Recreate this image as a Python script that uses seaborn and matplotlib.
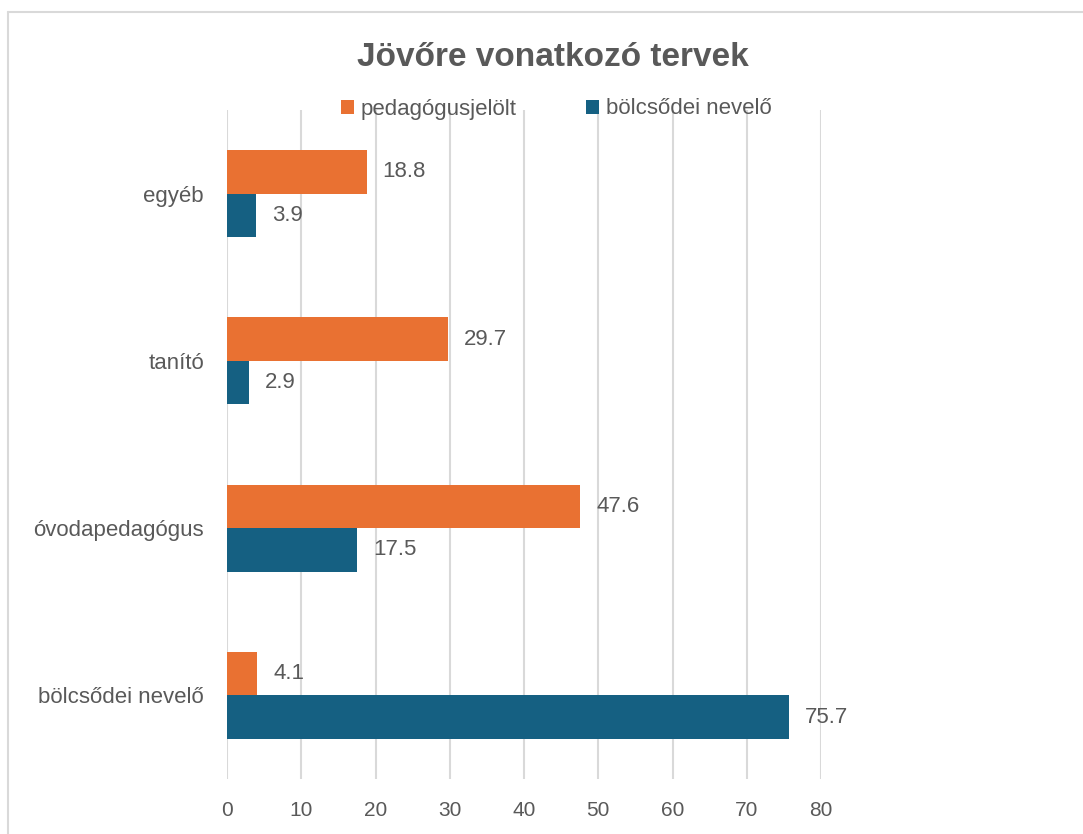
import pandas as pd
import numpy as np
import matplotlib
matplotlib.use("Agg")
import matplotlib.pyplot as plt
import seaborn as sns
from matplotlib.patches import Patch
from matplotlib.lines import Line2D

# data
categories = ["egyéb", "tanító", "óvodapedagógus", "bölcsődei nevelő"]
series = ["pedagógusjelölt", "bölcsődei nevelő"]
pedagogusjelolt = [18.8, 29.7, 47.6, 4.1]
bolcsodei_nevelo = [3.9, 2.9, 17.5, 75.7]
x_ticks = [0, 10, 20, 30, 40, 50, 60, 70, 80]

colors = {"pedagógusjelölt": "#E97132", "bölcsődei nevelő": "#156082"}
text_gray = "#595959"
grid_gray = "#D9D9D9"

df = pd.DataFrame({
    "kategoria": categories * 2,
    "sorozat": [series[0]] * 4 + [series[1]] * 4,
    "ertek": pedagogusjelolt + bolcsodei_nevelo,
})

sns.set_style("white")
plt.rcParams["font.family"] = ["Liberation Sans", "DejaVu Sans"]

fig = plt.figure(figsize=(10.83, 8.34), dpi=100)
ax = fig.add_axes([227 / 1083, 1 - 779 / 834, (821 - 227) / 1083, (779 - 110) / 834])

sns.barplot(data=df, y="kategoria", x="ertek", hue="sorozat",
            order=categories, hue_order=series, palette=colors,
            orient="h", width=0.52, dodge=True, saturation=1,
            edgecolor="none", linewidth=0, legend=False, ax=ax)

ax.set_xlim(0, 80)
ax.set_ylim(3.5, -0.5)
ax.set_xticks(x_ticks)
ax.set_xticklabels([str(t) for t in x_ticks])
ax.grid(axis="x", color=grid_gray, linewidth=1.5)
ax.grid(axis="y", visible=False)
ax.set_axisbelow(True)
for s in ax.spines.values():
    s.set_visible(False)
ax.set_xlabel("")
ax.set_ylabel("")
ax.tick_params(axis="x", length=0, labelsize=15, colors=text_gray, pad=16)
ax.tick_params(axis="y", length=0, labelsize=16, colors=text_gray, pad=16.5)

# value labels
for cont in ax.containers:
    for bar in cont:
        w = bar.get_width()
        ax.annotate(f"{w:.1f}", (w, bar.get_y() + bar.get_height() / 2),
                    xytext=(16, 0), textcoords="offset pixels",
                    ha="left", va="center", fontsize=16, color=text_gray)

fig.text(553 / 1083, 1 - 66 / 834, "Jövőre vonatkozó tervek", ha="center", va="baseline",
         fontsize=24, fontweight="bold", color=text_gray)

handles = [Patch(facecolor=colors[s], edgecolor="none", label=s) for s in series]
leg = fig.legend(handles=handles, loc="center", bbox_to_anchor=(556 / 1083, 1 - 109 / 834),
                 ncol=2, frameon=False, fontsize=16, handlelength=0.6, handleheight=0.6,
                 handletextpad=0.3, columnspacing=3.1, labelcolor=text_gray)

# chart border (top and left visible in the reference)
fig.add_artist(Line2D([8 / 1083, 1], [1 - 12 / 834, 1 - 12 / 834], color=grid_gray, linewidth=1.5))
fig.add_artist(Line2D([8 / 1083, 8 / 1083], [0, 1 - 12 / 834], color=grid_gray, linewidth=1.5))

fig.savefig("out.png", dpi=100)
